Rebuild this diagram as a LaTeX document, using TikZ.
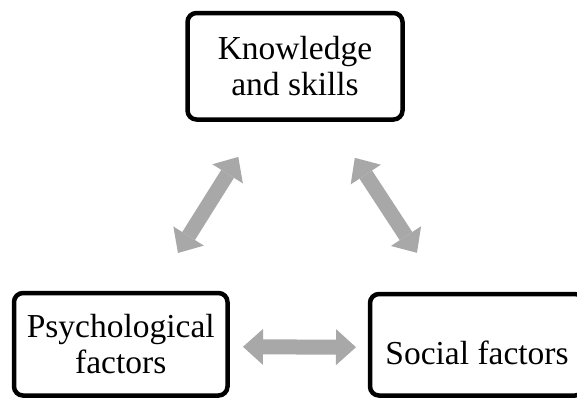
\documentclass[tikz,border=0pt]{standalone}
\usepackage{fontspec}
\setmainfont{Liberation Serif}
\usetikzlibrary{arrows.meta}
\definecolor{linkgray}{RGB}{168,168,168}
\begin{document}
\begin{tikzpicture}[x=1pt,y=-1pt,
  factor/.style={draw=black,line width=4.5pt,rounded corners=9pt,
    font=\fontsize{33.5}{36}\selectfont,align=center,inner sep=0pt},
  link/.style={draw=linkgray,line width=15pt,
    {Triangle[width=36pt,length=20pt,line width=0pt]}-{Triangle[width=36pt,length=20pt,line width=0pt]}}]
  \clip (0,0) rectangle (577,399);
  \useasboundingbox (0,0) rectangle (577,399);
  \fill[white] (0,0) rectangle (577,399);

  % the three factor boxes
  \node[factor,minimum width=215pt,minimum height=106.5pt] (know) at (295,66.25)
    {Knowledge\\and skills};
  \node[factor,minimum width=213.5pt,minimum height=102.5pt] (psy) at (120.75,344.25)
    {Psychological\\factors};
  \node[factor,minimum width=214pt,minimum height=101.5pt,text height=40pt,text depth=1.5pt] (soc) at (477,344.75)
    {Social factors};

  % two-way links between the factors
  \draw[link,shorten <=44.6pt,shorten >=41.5pt] (psy) -- (know);
  \draw[link,shorten <=43.1pt,shorten >=46.5pt] (know) -- (soc);
  \draw[link,shorten <=13.25pt,shorten >=11.75pt] ([yshift=-2.5pt]psy.east) -- ([yshift=-2.5pt]soc.west);
\end{tikzpicture}
\end{document}
